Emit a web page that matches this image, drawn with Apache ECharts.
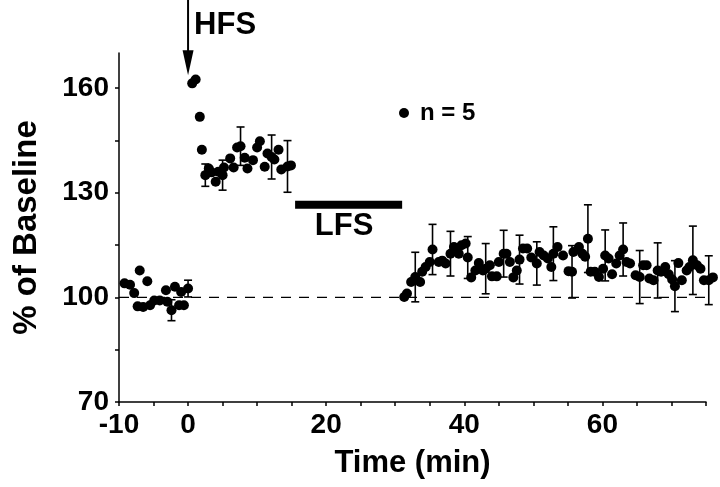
<!DOCTYPE html>
<html><head><meta charset="utf-8">
<script src="https://cdn.jsdelivr.net/npm/echarts@6/dist/echarts.min.js"></script>
<style>html,body{margin:0;padding:0;background:#fff}#c{width:720px;height:487px}</style>
</head><body><div id="c"></div>
<script>
// ---- data (time in min, % of baseline, SEM; 0 = no error bar drawn) ----
const baseTime = [-9.2,-8.4,-7.8,-7.3,-7.0,-6.5,-5.9,-5.5,-4.9,-4.1,-3.2,-3.0,-2.4,-1.9,-1.3,-1.0,-0.6,0.0];
const basePct  = [104,103.6,101.2,97.4,107.7,97.2,104.6,97.7,99.1,99.1,102,98.7,96.3,103,97.7,101.5,97.7,102.5];
const baseErr  = [0,0,0,0,0,0,0,0,0,0,0,0,3,0,0,0,0,2.4];

const hfsTime = [0.6,1.1,1.7,2.0,2.5,3.0,3.4,4.0,4.4,5.0,5.2,6.1,6.6,7.1,7.6,8.2,8.6,9.4,10.0,10.4,11.1,11.5,12.1,12.5,13.1,13.5,14.4,14.9];
const hfsPct  = [161.3,162.4,151.7,142.3,135,136.9,135.8,133.1,136,135,137.2,139.8,137.2,142.9,143.3,140,136.9,139.3,142.9,144.7,137.4,141.2,140.2,139.5,142.3,136.6,137.5,137.8];
const hfsErr  = [0,0,0,0,3.2,0,0,0,0,4.3,0,0,0,0,5.5,0,0,0,0,0,0,0,6.3,0,0,0,7.4,0];

const lfsTime = [31.3,31.7,32.3,32.9,33.6,33.9,34.4,35.0,35.4,36.3,36.8,37.3,38.0,38.5,39.2,39.6,40.2,40.5,41.0,41.6,42.1,42.7,43.1,43.7,44.0,44.7,45.0,45.7,46.1,46.6,47.1,47.6,48.0,48.5,49.1,49.7,50.5,50.9,51.5,52.1,52.6,52.9,53.5,54.3,55.1,55.6,55.8,56.6,57.1,57.5,57.9,58.3,58.9,59.5,60.1,60.4,60.9,61.4,62.0,62.5,63.0,63.5,64.0,64.8,65.4,65.9,66.4,66.8,67.4,68.0,68.5,69.1,69.6,70.1,70.5,71.0,71.5,72.2,72.6,73.1,73.7,74.2,74.7,75.4,76.0];
const lfsPct  = [100.1,101.1,104.4,105.8,104.4,107.3,108.7,110.1,113.7,110.1,110.5,109.7,112.5,114.4,112.5,114.9,115.4,111.4,105.7,107.7,109.8,107.7,108.2,109.2,106,106,110.1,112.5,112.5,110.1,105.7,107.7,110.8,114,114,111.4,109.7,113,112,111.1,108.7,112.5,114.4,112,107.5,107.3,113,114.4,112.5,111.6,116.8,107.3,107.3,105.8,108.2,112,111.1,106.6,109.7,112,113.7,110.1,109.7,106.3,105.8,109.2,109.2,105.4,104.9,107.7,107.3,108.7,106.6,105.1,103.2,109.8,104.9,107.7,108.7,110.6,109.2,108.2,104.9,104.9,105.7];
const lfsErr  = [0,0,0,7.1,0,0,0,0,7.2,0,0,0,6.4,0,0,0,0,6,0,0,0,0,7.2,0,0,0,0,6.7,0,0,0,0,7,0,0,0,6.2,0,0,0,0,7.7,0,0,0,7.5,0,0,0,0,9.7,0,0,0,0,7.3,0,0,0,0,7.6,0,0,0,7.6,0,0,0,0,7.9,0,0,0,0,7.3,0,0,0,0,9.8,0,0,0,7,0];

const baselineLevel = 100;
const lfsPeriod = [15.5, 31];
const lfsBarLevel = 126.5;
const hfsTime0 = 0;

const xTicks = [-10,-5,0,5,10,15,20,25,30,35,40,45,50,55,60,65,70,75];
const xLabels = [-10,0,20,40,60];
const yTicks = [70,85,100,115,130,145,160];
const yLabels = [70,100,130,160];
const legendLabel = 'n = 5';

// ---- build ----
const FONT = '"Liberation Sans", Arial, Helvetica, sans-serif';
const pts = [];
[[baseTime,basePct,baseErr],[hfsTime,hfsPct,hfsErr],[lfsTime,lfsPct,lfsErr]].forEach(([t,p,e])=>{
  t.forEach((v,i)=>pts.push([v,p[i],e[i]]));
});

const chart = echarts.init(document.getElementById('c'), null, {renderer:'canvas'});
const axisLine = {show:true, onZero:false, lineStyle:{color:'#000', width:1.5}};
chart.setOption({
  animation:false,
  backgroundColor:'#fff',
  grid:{left:119, right:14, top:53, bottom:85, containLabel:false},
  legend:{
    data:[{name:legendLabel, icon:'circle'}],
    left:394, top:96, itemWidth:10, itemHeight:10,
    textStyle:{fontFamily:FONT, fontWeight:'bold', fontSize:24, color:'#000', padding:[0,0,0,6]}
  },
  xAxis:{
    type:'value', min:-10, max:75, interval:5,
    axisLine:axisLine,
    axisTick:{show:true, length:4, customValues:xTicks, lineStyle:{color:'#000', width:1.5}},
    axisLabel:{customValues:xLabels, margin:9, fontFamily:FONT, fontWeight:'bold', fontSize:28, color:'#000'},
    splitLine:{show:false},
    name:'Time (min)', nameLocation:'middle', nameGap:46,
    nameTextStyle:{fontFamily:FONT, fontWeight:'bold', fontSize:31, color:'#000'}
  },
  yAxis:{
    type:'value', min:70, max:170,
    axisLine:axisLine,
    axisTick:{show:true, length:4, customValues:yTicks, lineStyle:{color:'#000', width:1.5}},
    axisLabel:{customValues:yLabels, margin:10, fontFamily:FONT, fontWeight:'bold', fontSize:28, color:'#000'},
    splitLine:{show:false},
    name:'% of Baseline', nameLocation:'middle', nameGap:76, nameRotate:90,
    nameTextStyle:{fontFamily:FONT, fontWeight:'bold', fontSize:33, color:'#000'}
  },
  series:[
    {
      type:'line', name:'baseline', data:[[-10,baselineLevel],[75,baselineLevel]],
      symbol:'none', silent:true, z:1,
      lineStyle:{color:'#000', width:1.3, type:[10,8]}
    },
    {
      type:'line', name:'LFS', data:[[lfsPeriod[0],lfsBarLevel],[lfsPeriod[1],lfsBarLevel]],
      symbol:'none', silent:true, z:2,
      lineStyle:{color:'#000', width:8, cap:'butt'}
    },
    {
      type:'custom', name:'err', clip:false, z:3,
      data:pts.filter(d=>d[2]>0),
      renderItem:function(params, api){
        const x = api.value(0), y = api.value(1), e = api.value(2);
        const top = api.coord([x, y+e]);
        const bot = api.coord([x, y-e]);
        const w = 4;
        const st = {stroke:'#000', lineWidth:1.6};
        return {type:'group', children:[
          {type:'line', shape:{x1:top[0], y1:top[1], x2:bot[0], y2:bot[1]}, style:st},
          {type:'line', shape:{x1:top[0]-w, y1:top[1], x2:top[0]+w, y2:top[1]}, style:st},
          {type:'line', shape:{x1:bot[0]-w, y1:bot[1], x2:bot[0]+w, y2:bot[1]}, style:st}
        ]};
      }
    },
    {
      type:'scatter', name:legendLabel, clip:false, z:4,
      data:pts.map(d=>[d[0],d[1]]),
      symbol:'circle', symbolSize:10,
      itemStyle:{color:'#000', opacity:1}
    }
  ]
});

// annotations positioned through the chart's own scales
const hfsTip = chart.convertToPixel({gridIndex:0}, [hfsTime0, 163.6]);
const lfsTxt = chart.convertToPixel({gridIndex:0}, [22.6, 120.4]);
chart.setOption({
  graphic:[
    {type:'line', shape:{x1:hfsTip[0], y1:0, x2:hfsTip[0], y2:hfsTip[1]-20}, style:{stroke:'#000', lineWidth:2}},
    {type:'polygon', shape:{points:[[hfsTip[0]-5.5, hfsTip[1]-25],[hfsTip[0]+5.5, hfsTip[1]-25],[hfsTip[0], hfsTip[1]]]}, style:{fill:'#000'}},
    {type:'text', left:hfsTip[0]+6, top:10, style:{text:'HFS', fontFamily:FONT, fontWeight:'bold', fontSize:31, fill:'#000'}},
    {type:'text', x:lfsTxt[0], y:lfsTxt[1], style:{text:'LFS', fontFamily:FONT, fontWeight:'bold', fontSize:31, fill:'#000', align:'center', verticalAlign:'middle'}}
  ]
});
</script></body></html>
